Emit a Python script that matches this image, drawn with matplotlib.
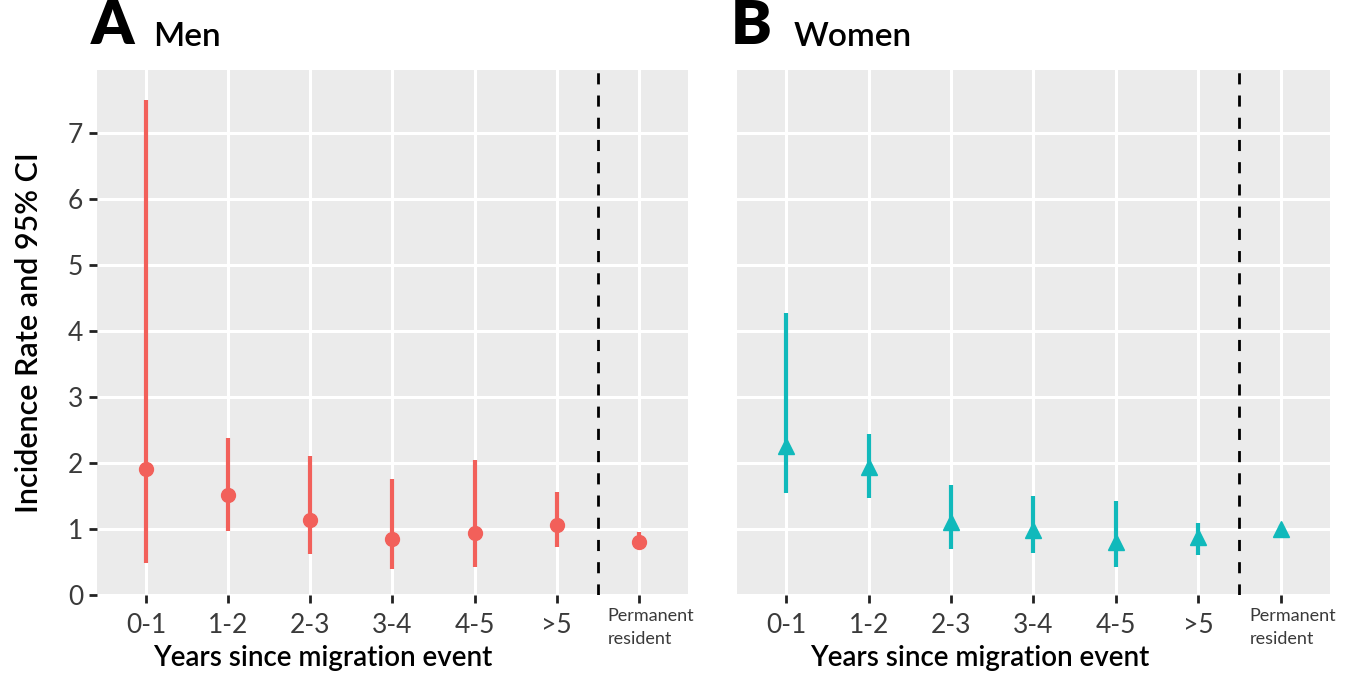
import numpy as np
import matplotlib
matplotlib.use("Agg")
import matplotlib.pyplot as plt
from matplotlib.transforms import blended_transform_factory

plt.rcParams['font.family'] = ['Lato', 'DejaVu Sans']

categories = ["0-1", "1-2", "2-3", "3-4", "4-5", ">5", "Permanent\nresident"]

# Men: incidence rate and 95% CI
men_rate = [1.90, 1.52, 1.14, 0.85, 0.94, 1.06, 0.80]
men_low = [0.49, 0.97, 0.62, 0.39, 0.42, 0.73, 0.70]
men_high = [7.50, 2.37, 2.11, 1.75, 2.05, 1.56, 0.96]

# Women: incidence rate and 95% CI
women_rate = [2.26, 1.94, 1.11, 0.99, 0.80, 0.87, 1.00]
women_low = [1.55, 1.47, 0.70, 0.64, 0.42, 0.61, 0.93]
women_high = [4.27, 2.44, 1.67, 1.50, 1.43, 1.09, 1.06]

red = "#F2605A"
teal = "#10B9BB"
tick_col = "#3A3A3A"

fig = plt.figure(figsize=(13.68, 6.73), dpi=100)
ax1 = fig.add_axes([0.0709, 0.116, 0.432, 0.780])
ax2 = fig.add_axes([0.5387, 0.116, 0.4335, 0.780])

x = np.arange(1, len(categories) + 1)

panels = [(ax1, men_rate, men_low, men_high, red, "o", 10, "A", "Men", 0.382),
          (ax2, women_rate, women_low, women_high, teal, "^", 12, "B", "Women", 0.41)]

for ax, rate, low, high, col, mk, ms, tag, title, xl in panels:
    ax.set_facecolor("#EBEBEB")
    ax.set_axisbelow(True)
    ax.grid(True, color="white", linewidth=2.2)
    for s in ax.spines.values():
        s.set_visible(False)
    ax.vlines(x, low, high, color=col, linewidth=3)
    ax.plot(x, rate, linestyle="none", marker=mk, markersize=ms, color=col)
    ax.axvline(6.5, color="black", linestyle=(0, (4, 4)), linewidth=2)
    ax.set_xlim(0.4, 7.6)
    ax.set_ylim(0, 7.95)
    ax.set_yticks(range(0, 8))
    ax.set_xticks(x)
    ax.set_xticklabels(categories[:-1] + [""], fontsize=19, color=tick_col)
    trans = blended_transform_factory(ax.transData, ax.transAxes)
    ax.text(6.62, -0.025, categories[-1], transform=trans, ha="left",
            va="top", fontsize=13, linespacing=1.5, color=tick_col)
    ax.tick_params(axis="x", length=6, width=2, color="#222222", pad=7)
    ax.set_xlabel("Years since migration event", fontsize=20, fontweight="semibold", labelpad=5)
    ax.xaxis.label.set_x(xl)
    ax.text(-0.01, 1.03, tag, transform=ax.transAxes, fontsize=44,
            fontweight="heavy", ha="left", va="bottom")
    ax.text(0.095, 1.035, title, transform=ax.transAxes, fontsize=24,
            fontweight="semibold", ha="left", va="bottom")

ax1.tick_params(axis="y", length=6, width=2, color="#222222", labelsize=19,
                labelcolor=tick_col, pad=4)
ax1.set_ylabel("Incidence Rate and 95% CI", fontsize=22, fontweight="semibold", labelpad=18)
ax2.tick_params(axis="y", length=0, labelleft=False)

fig.savefig("out.png", dpi=100)
